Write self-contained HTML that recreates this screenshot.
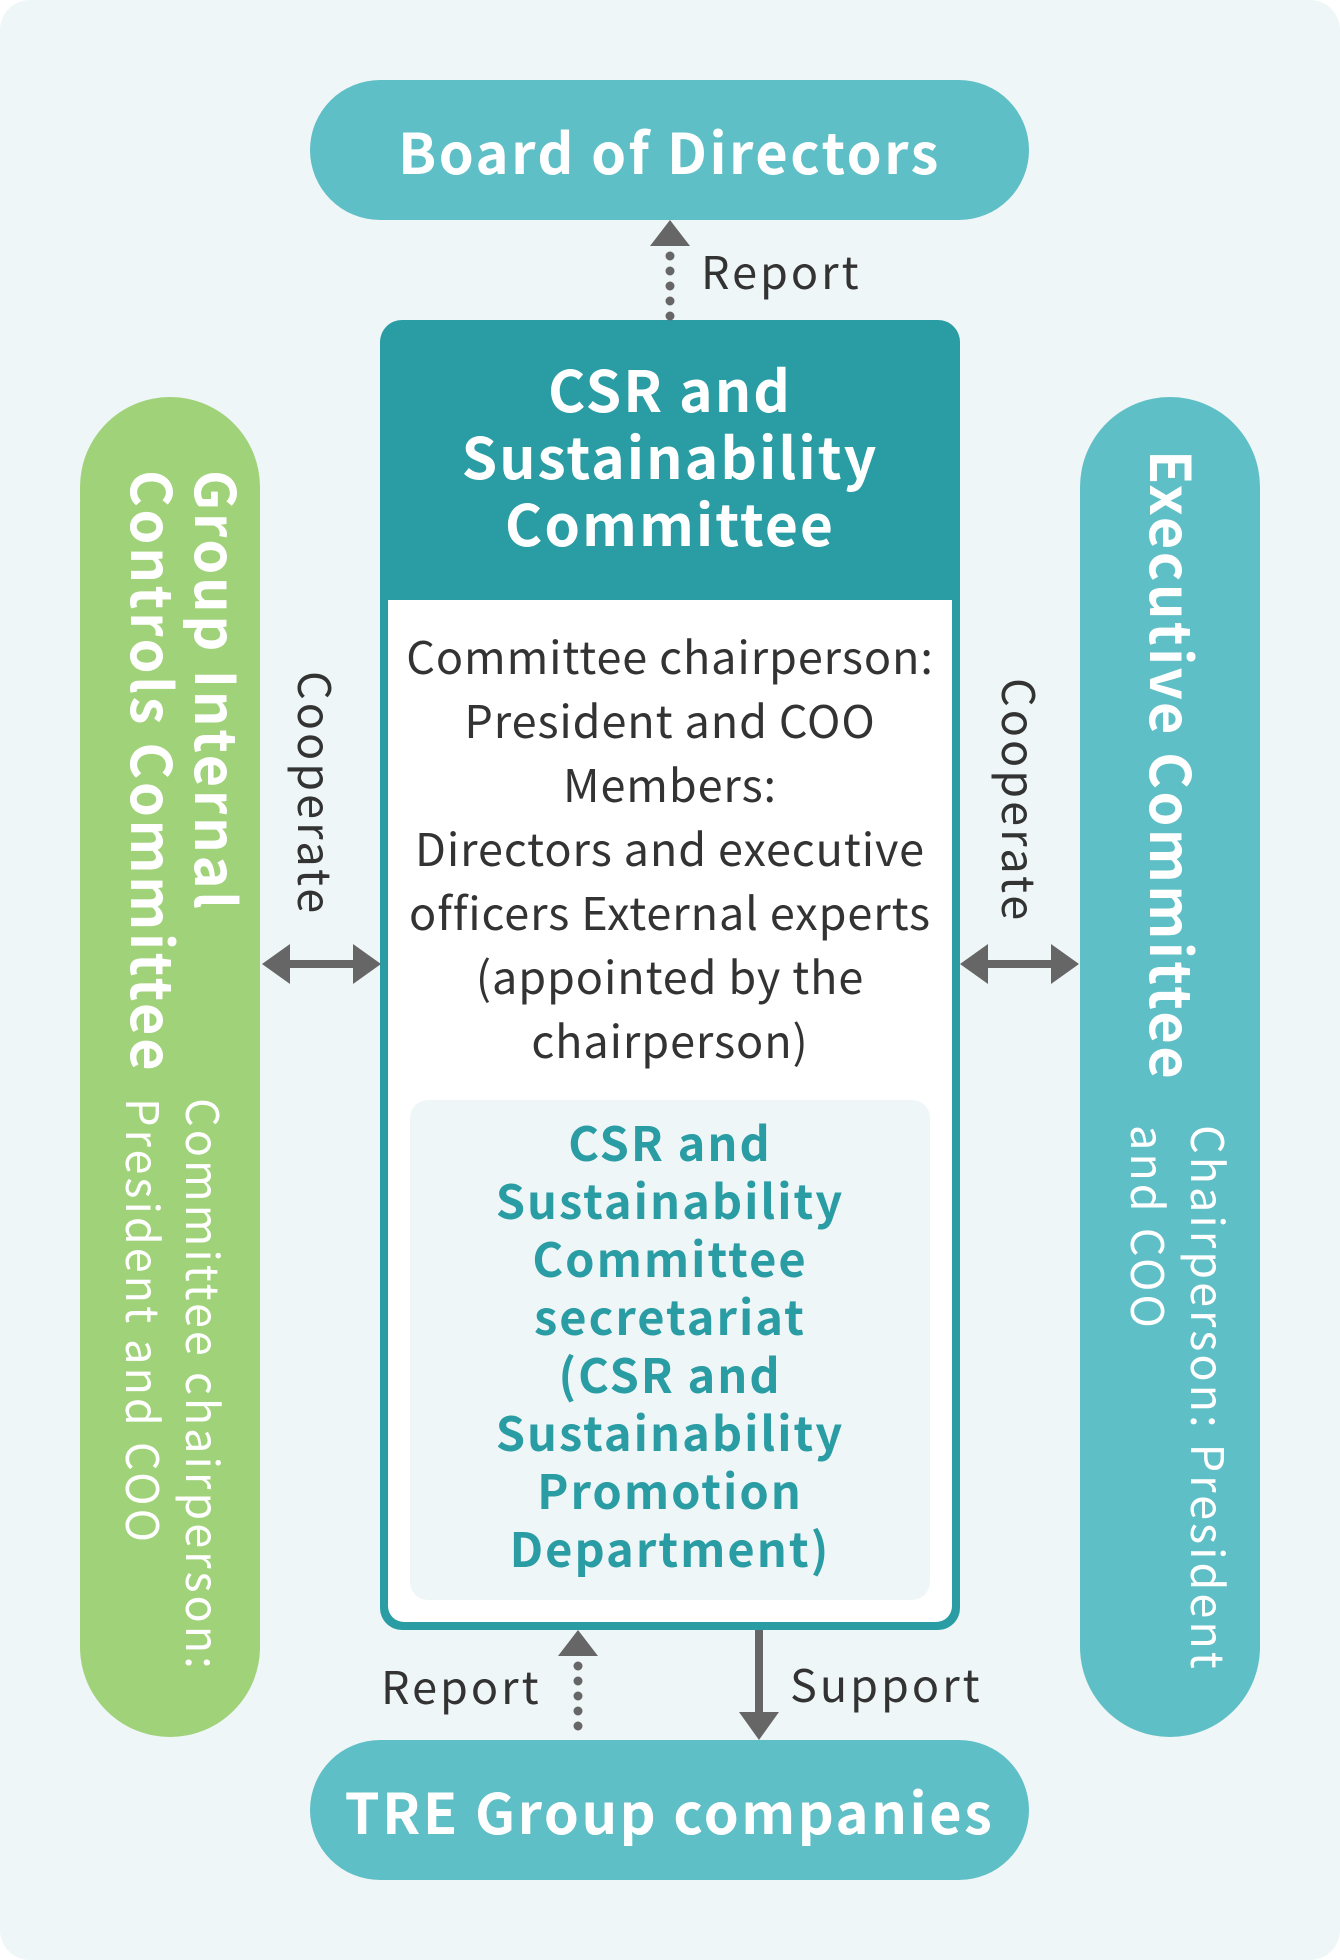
<!DOCTYPE html>
<html><head><meta charset="utf-8"><style>
body{margin:0;width:1340px;height:1960px;background:#fff;font-family:"Noto Sans CJK JP","Liberation Sans",sans-serif;}
.bg{position:absolute;left:0;top:0;width:1340px;height:1960px;background:#eff6f7;border-radius:30px;}
.abs{position:absolute;}
.pill{position:absolute;border-radius:70px;background:#5fbfc6;color:#fff;font-weight:bold;display:flex;align-items:center;justify-content:center;}
.v{writing-mode:vertical-rl;}
</style></head><body>
<div class="bg"></div>
<div class="pill" style="left:310px;top:80px;width:719px;height:140px;font-size:56px;letter-spacing:2.5px;">Board of Directors</div>
<div class="pill" style="left:310px;top:1740px;width:719px;height:140px;font-size:56px;letter-spacing:2.5px;">TRE Group companies</div>

<div class="abs" style="left:80px;top:397px;width:180px;height:1340px;border-radius:90px;background:#a0d27a;"></div>
<div class="abs v" style="left:100px;top:470px;width:150px;color:#fff;font-weight:bold;font-size:56px;line-height:64px;letter-spacing:2.7px;">Group Internal<br>Controls Committee</div>
<div class="abs v" style="left:105px;top:1098px;width:130px;color:#fff;font-size:45px;line-height:60px;letter-spacing:3px;">Committee chairperson:<br>President and COO</div>

<div class="abs" style="left:1080px;top:397px;width:180px;height:1340px;border-radius:90px;background:#5fbfc6;"></div>
<div class="abs v" style="left:1135px;top:450px;width:70px;color:#fff;font-weight:bold;font-size:56px;line-height:64px;letter-spacing:2.5px;">Executive Committee</div>
<div class="abs v" style="left:1110px;top:1125px;width:130px;color:#fff;font-size:45px;line-height:60px;letter-spacing:3px;">Chairperson: President<br>and COO</div>

<div class="abs" style="left:380px;top:320px;width:580px;height:1310px;border-radius:22px;background:#2a9ca3;"></div>
<div class="abs" style="left:388px;top:600px;width:564px;height:1022px;border-radius:0 0 16px 16px;background:#fff;"></div>
<div class="abs" style="left:370px;top:355px;width:600px;text-align:center;color:#fff;font-weight:bold;font-size:57px;line-height:67px;letter-spacing:2px;">CSR and<br>Sustainability<br>Committee</div>
<div class="abs" style="left:368px;top:623px;width:604px;text-align:center;color:#333;font-size:45px;line-height:64px;letter-spacing:0.9px;">Committee chairperson:<br>President and COO<br>Members:<br>Directors and executive<br>officers External experts<br>(appointed by the<br>chairperson)</div>
<div class="abs" style="left:410px;top:1100px;width:520px;height:500px;border-radius:18px;background:#eff6f7;"></div>
<div class="abs" style="left:400px;top:1112px;width:540px;text-align:center;color:#2a9ca3;font-weight:bold;font-size:47px;line-height:58px;letter-spacing:2px;">CSR and<br>Sustainability<br>Committee<br>secretariat<br>(CSR and<br>Sustainability<br>Promotion<br>Department)</div>

<svg class="abs" style="left:0;top:0" width="1340" height="1960">
<g fill="#666" stroke="#666">
<polygon points="670,220 650,246 690,246" stroke="none"/>
<line x1="670" y1="256" x2="670" y2="318" stroke-width="9" stroke-linecap="round" stroke-dasharray="0 15"/>
<polygon points="578,1630 558,1656 598,1656" stroke="none"/>
<line x1="578" y1="1666" x2="578" y2="1735" stroke-width="9" stroke-linecap="round" stroke-dasharray="0 15"/>
<line x1="759" y1="1630" x2="759" y2="1712" stroke-width="8"/>
<polygon points="759,1740 739,1712 779,1712" stroke="none"/>
<line x1="285" y1="964" x2="358" y2="964" stroke-width="8"/>
<polygon points="262,964 290,944 290,984" stroke="none"/>
<polygon points="381,964 353,944 353,984" stroke="none"/>
<line x1="983" y1="964" x2="1056" y2="964" stroke-width="8"/>
<polygon points="960,964 988,944 988,984" stroke="none"/>
<polygon points="1079,964 1051,944 1051,984" stroke="none"/>
</g>
</svg>
<div class="abs" style="left:701px;top:237px;font-size:45px;color:#333;letter-spacing:3px;">Report</div>
<div class="abs" style="left:381px;top:1652px;font-size:45px;color:#333;letter-spacing:3px;">Report</div>
<div class="abs" style="left:790px;top:1650px;font-size:45px;color:#333;letter-spacing:3px;">Support</div>
<div class="abs v" style="left:292px;top:671px;font-size:45px;color:#333;line-height:50px;letter-spacing:3px;">Cooperate</div>
<div class="abs v" style="left:996px;top:678px;font-size:45px;color:#333;line-height:50px;letter-spacing:3px;">Cooperate</div>
</body></html>
